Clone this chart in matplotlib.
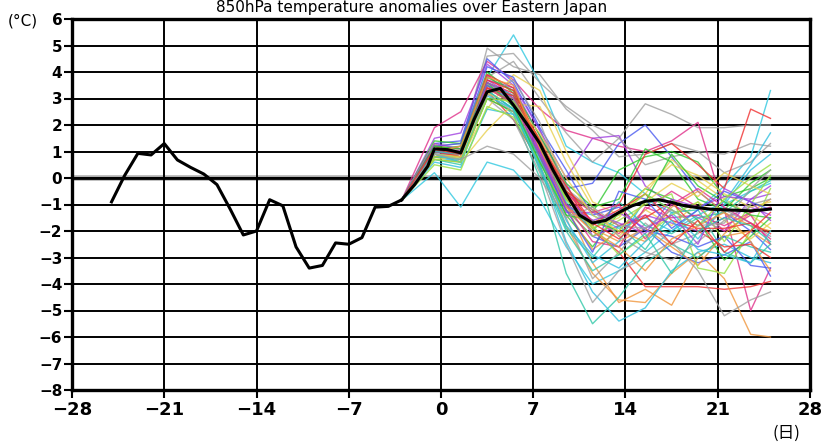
import matplotlib
matplotlib.use("Agg")
import matplotlib.pyplot as plt

# ---------------- data ----------------
title = "850hPa temperature anomalies over Eastern Japan"
x_ticks = [-28, -21, -14, -7, 0, 7, 14, 21, 28]
y_ticks = [6, 5, 4, 3, 2, 1, 0, -1, -2, -3, -4, -5, -6, -7, -8]

obs_days = [-25, -24, -23, -22, -21, -20, -19, -18, -17, -16, -15, -14, -13, -12,
            -11, -10, -9, -8, -7, -6, -5, -4, -3]
obs_vals = [-0.9, 0.1, 0.93, 0.87, 1.3, 0.68, 0.4, 0.15, -0.25, -1.17, -2.15, -2.0,
            -0.82, -1.05, -2.6, -3.4, -3.3, -2.45, -2.5, -2.25, -1.1, -1.07, -0.83]

mean_days = [-3, -2, -1, -0.5, 0.5, 1.5, 2.5, 3.5, 4.5, 5.5, 6.5, 7.5, 8.5, 9.5, 10.5,
             11.5, 12.5, 13.5, 14.5, 15.5, 16.5, 17.5, 18.5, 19.5, 20.5, 21.5, 22.5,
             23.5, 24.5, 25]
mean_vals = [-0.83, -0.25, 0.45, 1.1, 1.07, 0.95, 2.2, 3.25, 3.38, 2.75, 2.05, 1.3, 0.3,
             -0.6, -1.4, -1.7, -1.6, -1.3, -1.05, -0.88, -0.82, -0.92, -1.05, -1.12,
             -1.18, -1.2, -1.22, -1.24, -1.2, -1.17]

ens_days = [-3, -0.5, 1.5, 3.5, 5.5, 7.5, 9.5, 11.5, 13.5, 15.5, 17.5, 19.5, 21.5, 23.5, 25]
ens_members = [
    [-0.85, 0.2, -1.1, 0.6, 0.3, -0.8, -2.6, -4.0, -3.5, -2.8, -2.0, -1.2, -0.3, 0.8, 3.3],
    [-0.85, 1.0, 0.8, 3.8, 5.4, 3.6, 1.2, 0.6, 0.2, -0.6, -1.2, -1.8, -1.0, -0.5, -0.2],
    [-0.85, 1.2, 1.3, 4.6, 4.7, 3.6, 2.7, 2.0, 1.5, 2.8, 2.4, 1.9, 1.9, 2.0, 2.0],
    [-0.85, 1.0, 1.1, 4.9, 4.2, 3.9, 2.6, 1.8, 0.8, 0.9, 1.3, 1.0, 0.9, 1.3, 1.2],
    [-0.85, 1.9, 2.5, 4.4, 3.7, 2.6, 1.8, 1.5, 1.2, 1.0, 1.4, 2.1, -1.2, -5.0, -3.4],
    [-0.85, 0.8, 0.9, 3.3, 2.2, 0.6, -1.0, -2.0, -2.8, -4.1, -4.1, -4.1, -4.2, -4.1, -3.9],
    [-0.85, 0.7, 0.6, 3.0, 2.5, 0.8, -1.8, -3.6, -4.6, -4.7, -3.6, -2.8, -3.8, -5.9, -6.0],
    [-0.85, 1.0, 0.8, 3.6, 3.0, 1.2, -1.0, -3.2, -4.7, -4.2, -4.8, -3.0, -2.2, -2.0, -2.5],
    [-0.85, 0.7, 0.5, 3.2, 2.4, 0.0, -3.6, -5.5, -4.5, -3.2, -2.5, -3.0, -2.2, -2.6, -2.8],
    [-0.85, 0.8, 0.6, 3.4, 2.8, 0.5, -2.4, -4.3, -5.4, -4.9, -3.5, -2.8, -2.5, -3.0, -3.2],
    [-0.85, 0.9, 0.8, 3.0, 2.2, 0.2, -2.5, -4.7, -3.5, -3.0, -2.4, -3.5, -5.2, -4.6, -4.3],
    [-0.85, 1.3, 1.4, 4.5, 3.6, 1.8, -0.4, -0.2, 1.3, 2.0, 0.8, -0.5, -1.3, -2.0, -2.7],
    [-0.85, 1.5, 1.7, 4.3, 3.5, 1.8, 0.0, 1.5, 1.6, -0.3, -1.0, -1.5, -2.0, -0.8, -0.6],
    [-0.85, 1.1, 1.0, 3.8, 4.4, 3.0, 1.7, 0.6, 1.5, 0.5, 0.8, 1.0, 0.2, 0.6, 1.3],
    [-0.85, 1.4, 1.3, 4.0, 3.2, 1.4, -0.5, -1.3, 0.3, 0.8, 1.0, 0.6, -0.7, -0.4, 0.0],
    [-0.85, 0.9, 0.7, 2.6, 3.9, 3.3, 1.0, -0.9, -1.4, -0.6, 0.7, -0.1, -0.8, -1.4, -1.9],
    [-0.85, 1.2, 0.9, 3.6, 3.2, 1.4, -0.6, -1.8, -1.0, 0.9, 1.3, 0.5, -0.4, 2.6, 2.25],
    [-0.85, 0.9, 0.9, 3.3, 2.6, 0.9, -1.2, -2.2, -2.6, -1.9, -2.8, -3.2, -2.9, -2.4, -3.7],
    [-0.85, 0.8, 0.7, 3.0, 2.5, 0.8, -1.4, -2.6, -1.3, -0.4, -0.8, -1.6, -3.1, -2.2, -1.5],
    [-0.85, 1.0, 1.2, 3.9, 3.0, 1.1, -0.8, -1.6, -2.1, -1.2, -0.5, -1.1, -2.0, -1.4, -2.5],
    [-0.85, 0.6, 0.4, 2.6, 2.4, 1.0, -1.1, -1.4, -1.9, -1.5, -2.0, -1.4, -0.9, 0.5, 1.7],
    [-0.85, 1.3, 0.6, 1.8, 2.8, 2.7, 0.6, -1.1, -2.2, -1.2, -1.8, -0.9, -1.6, -2.3, -1.7],
    [-0.85, 1.0, 0.9, 3.4, 2.9, 1.5, -0.3, -1.9, -2.4, -1.9, -2.6, -3.3, -2.1, -1.3, -0.8],
    [-0.85, 1.1, 1.0, 3.7, 3.4, 1.6, -0.2, -2.2, -1.8, -1.4, -1.7, -2.0, -1.5, -1.1, -1.4],
    [-0.85, 0.9, 0.8, 3.5, 2.7, 0.5, -1.9, -3.0, -1.8, -2.7, -1.3, -1.2, -2.8, -3.2, -2.5],
    [-0.85, 0.5, 0.3, 2.7, 2.3, 0.6, -1.2, -2.2, -1.6, -1.0, -0.6, -3.4, -3.6, -2.0, -0.4],
    [-0.85, 1.0, 0.9, 3.2, 2.5, 0.4, -1.5, -3.8, -2.8, -1.7, -2.5, -2.1, -1.2, -1.7, -2.2],
    [-0.85, 1.2, 1.1, 3.9, 3.4, 1.2, -0.5, -1.2, -1.8, -1.5, -0.9, -2.0, -2.6, -2.5, -3.0],
    [-0.85, 1.2, 1.3, 4.2, 3.8, 1.9, 0.3, -1.4, -1.1, -2.0, -2.2, -2.6, -2.2, -3.3, -3.4],
    [-0.85, 1.1, 1.2, 3.8, 3.3, 1.6, -0.2, -1.1, -0.8, 1.1, 0.6, -0.8, -1.2, -0.2, 0.3],
    [-0.85, 1.0, 0.9, 3.5, 2.8, 0.9, -1.0, -2.4, -2.6, -1.1, -1.5, -1.4, -1.8, -1.3, -1.1],
    [-0.85, 0.8, 0.7, 3.1, 2.6, 0.7, -1.6, -3.2, -2.4, -0.8, -1.3, -2.3, -1.0, 0.3, 0.9],
    [-0.85, 0.7, 0.8, 3.3, 3.0, 1.4, -0.7, -1.9, -1.5, -0.4, 0.5, 0.1, -0.6, -1.1, -0.9],
    [-0.85, 0.8, 0.9, 3.4, 2.8, 0.8, -1.2, -2.7, -2.0, -2.4, -1.1, -0.5, -1.3, -1.8, -2.0],
    [-0.85, 1.3, 1.1, 3.7, 3.1, 1.0, -1.3, -1.3, -1.7, -2.1, -0.8, -1.1, -0.7, -0.8, -0.3],
    [-0.85, 1.1, 1.0, 3.6, 3.1, 1.2, -0.9, -2.0, -0.9, -1.8, -2.1, -1.5, -1.3, -0.5, -0.1],
    [-0.85, 0.8, 0.8, 3.5, 3.0, 1.2, -0.8, -1.8, -2.9, -2.2, -1.4, -0.9, -2.4, -1.0, 0.1],
    [-0.85, 0.9, 0.6, 3.1, 3.7, 2.1, -0.4, -1.2, -2.2, -2.8, -3.1, -2.4, -1.6, -1.0, -0.8],
    [-0.85, 1.0, 0.8, 3.7, 3.3, 1.4, -0.5, -1.7, -1.2, -0.6, -1.6, -1.9, -1.9, -1.7, -2.1],
    [-0.85, 1.1, 1.0, 3.5, 2.9, 0.8, -1.2, -2.8, -0.5, -0.8, -1.9, -1.2, -0.5, -0.9, -1.2],
    [-0.85, 1.2, 1.1, 3.6, 2.7, 0.6, -1.4, -1.6, -2.0, -0.9, 0.9, -0.3, -0.9, -1.4, -1.5],
    [-0.85, 1.1, 1.0, 3.4, 2.8, 1.0, -0.6, -1.3, -1.0, -2.3, -1.0, -0.4, -1.1, -1.7, -2.3],
    [-0.85, 0.9, 0.6, 3.3, 2.6, 0.4, -1.8, -2.9, -3.4, -2.4, -1.6, -2.7, -2.9, -3.2, -2.0],
    [-0.85, 0.9, 0.8, 3.2, 2.8, 1.7, 0.0, -1.4, -2.0, -0.9, -0.2, -0.7, 0.2, -0.3, -0.6],
    [-0.85, 1.0, 1.2, 3.8, 3.5, 1.1, -1.1, -2.0, -2.6, -3.5, -2.3, -1.8, -1.3, -2.4, -3.5],
    [-0.85, 1.0, 0.9, 3.6, 3.0, 1.0, -1.0, -1.6, -1.3, -1.9, -1.4, -2.5, -0.4, -0.9, -1.6],
    [-0.85, 1.0, 0.9, 3.3, 2.6, 0.3, -2.0, -3.5, -2.9, -2.1, -3.6, -2.0, -1.5, -1.8, -2.4],
    [-0.85, 0.7, 0.6, 3.0, 2.9, 1.3, -0.8, -1.9, -1.4, -0.6, -1.2, -1.8, -0.8, 0.0, 0.5],
    [-0.85, 0.9, 0.7, 1.2, 0.9, 0.0, -1.5, -1.1, -1.8, -1.9, -1.2, -1.8, -1.7, -0.4, 0.3],
    [-0.85, 1.1, 0.9, 3.4, 3.1, 1.3, -0.3, -1.7, -2.3, -1.4, -2.5, -1.6, -2.8, -2.0, -1.3],
]

# ---------------- style ----------------
member_colors = ['#30c8e0', '#30c8e0', '#a0a0a0', '#a0a0a0', '#e0308a', '#f03030',
                 '#f0963c', '#f0963c', '#30c8a8', '#30c0e0', '#a0a0a0', '#4a5af0',
                 '#a040e0', '#a0a0a0', '#30c830', '#e8d050', '#f03030', '#4a5af0',
                 '#30c830', '#e0308a', '#30c0e0', '#e8d050', '#f0963c', '#a040e0',
                 '#30c8a8', '#98e040', '#a0a0a0', '#f03030', '#4a5af0', '#30c830',
                 '#e0308a', '#30c0e0', '#e8d050', '#f0963c', '#a040e0', '#30c8a8',
                 '#98e040', '#a0a0a0', '#f03030', '#4a5af0', '#30c830', '#e0308a',
                 '#30c0e0', '#e8d050', '#f0963c', '#a040e0', '#30c8a8', '#98e040',
                 '#a0a0a0', '#f03030']

fig = plt.figure(figsize=(8.23, 4.43), dpi=100)
ax = fig.add_axes([72 / 823, 1 - 390 / 443, (810 - 72) / 823, (390 - 19) / 443])

for vals, col in zip(ens_members, member_colors):
    ax.plot(ens_days, vals, color=col, lw=1.0, alpha=0.8, zorder=3)

ax.plot(obs_days, obs_vals, color='black', lw=2.2, zorder=5, solid_joinstyle='round')
ax.plot(mean_days, mean_vals, color='black', lw=2.2, zorder=5, solid_joinstyle='round')

ax.set_xlim(-28, 28)
ax.set_ylim(-8, 6)
ax.set_xticks(x_ticks)
ax.set_yticks(y_ticks)
ax.set_xticklabels([str(v).replace('-', '\u2212') for v in x_ticks],
                   fontsize=13, fontweight='bold')
ax.set_yticklabels([str(v).replace('-', '\u2212') for v in y_ticks],
                   fontsize=11, fontweight='bold')
ax.tick_params(axis='both', direction='out', length=6, width=1.5, color='black')
ax.tick_params(axis='x', pad=2)
ax.tick_params(axis='y', pad=1)

ax.grid(True, color='black', lw=1.4, zorder=1)
ax.axhline(0, color='#b0b0b0', lw=4.0, zorder=1.5)
ax.axhline(0, color='black', lw=2.0, zorder=2)
for sp in ax.spines.values():
    sp.set_linewidth(2.4)
    sp.set_zorder(6)

fig.text(0.5, 1 - 12 / 443, title, ha='center', va='baseline', fontsize=11)
fig.text(8 / 823, 1 - 26 / 443, "(\u00b0C)", ha='left', va='baseline', fontsize=11)
fig.text(773 / 823, 1 - 438 / 443, "(日)", ha='left', va='baseline', fontsize=12,
         family=['Noto Sans CJK JP', 'DejaVu Sans'])

fig.savefig("out.png", dpi=100)
